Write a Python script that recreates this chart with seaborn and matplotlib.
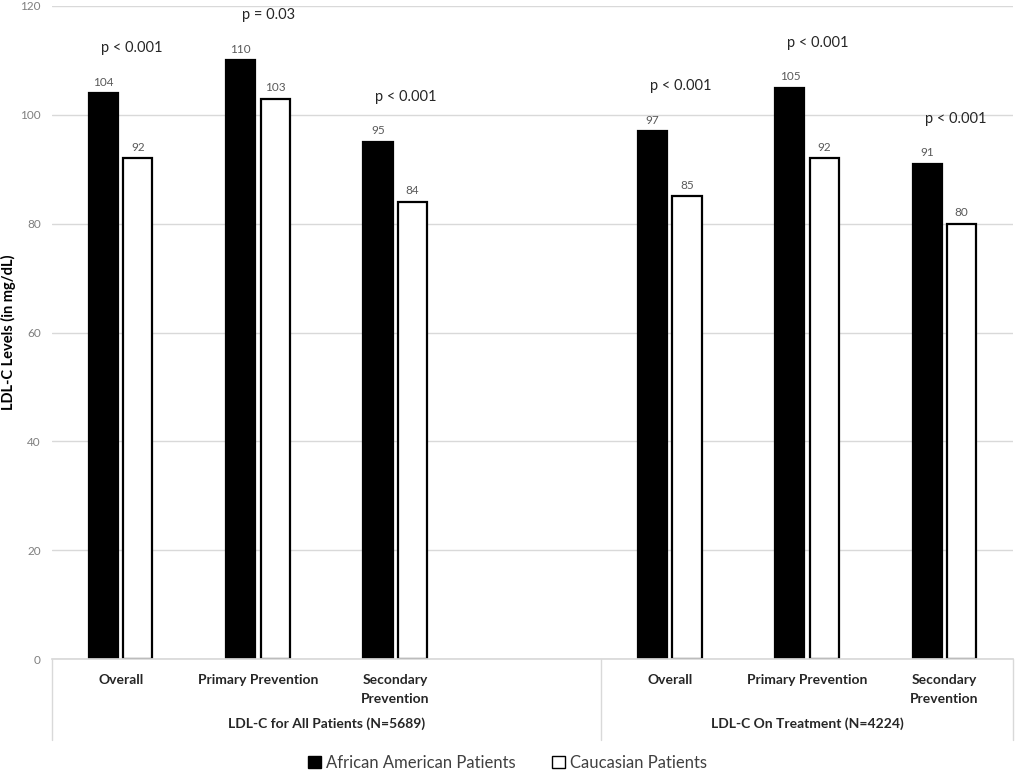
import matplotlib
matplotlib.use("Agg")
import matplotlib.pyplot as plt
from matplotlib.patches import Patch
import seaborn as sns
import pandas as pd

# ---- data ----
groups = ["LDL-C for All Patients (N=5689)", "LDL-C On Treatment (N=4224)"]
subcats = ["Overall", "Primary Prevention", "Secondary\nPrevention"]
series = ["African American Patients", "Caucasian Patients"]
african = [104, 110, 95, 97, 105, 91]
caucasian = [92, 103, 84, 85, 92, 80]
pvals = ["p < 0.001", "p = 0.03", "p < 0.001", "p < 0.001", "p < 0.001", "p < 0.001"]
yticks = [0, 20, 40, 60, 80, 100, 120]

# slot keys: 3 categories, one empty slot, 3 categories
slot_keys = ["A1", "A2", "A3", "gap", "B1", "B2", "B3"]
data_keys = ["A1", "A2", "A3", "B1", "B2", "B3"]

rows = []
for k, a, c in zip(data_keys, african, caucasian):
    rows.append({"slot": k, "series": series[0], "value": a})
    rows.append({"slot": k, "series": series[1], "value": c})
df = pd.DataFrame(rows)

sns.set_theme(style="white")
plt.rcParams["font.family"] = ["Lato", "DejaVu Sans"]

fig = plt.figure(figsize=(10.15, 7.71), dpi=100)
ax = fig.add_axes([52 / 1015, 1 - 659 / 771, (1013 - 52) / 1015, (659 - 6) / 771])

sns.barplot(data=df, x="slot", y="value", hue="series", order=slot_keys,
            hue_order=series, palette=["black", "white"], width=0.5, gap=0.15,
            edgecolor="black", linewidth=1.6, legend=False, ax=ax, errorbar=None)

for cont in ax.containers:
    ax.bar_label(cont, fmt="%d", padding=4, fontsize=8.5, color="#595959")

ax.set_ylim(0, 120)
ax.set_xlim(-0.5, 6.5)
ax.set_yticks(yticks)
ax.set_yticklabels([str(t) for t in yticks], fontsize=8.5, color="#7f7f7f")
ax.yaxis.grid(True, color="#d9d9d9", linewidth=1)
ax.set_axisbelow(True)
for s in ["left", "right", "top"]:
    ax.spines[s].set_visible(False)
ax.spines["bottom"].set_color("#d9d9d9")
ax.tick_params(axis="y", length=0, pad=8)
ax.tick_params(axis="x", length=0, pad=11)

tick_labels = subcats + [""] + subcats
ax.set_xticks(range(len(slot_keys)))
ax.set_xticklabels(tick_labels, fontsize=10, fontweight="bold", color="#262626",
                   linespacing=1.7)
ax.set_xlabel("")
ax.set_ylabel("LDL-C Levels (in mg/dL)", fontsize=10.5, fontweight="bold",
              color="black", labelpad=3)

# p-values above each pair
for k, p, a, c in zip(data_keys, pvals, african, caucasian):
    xi = slot_keys.index(k)
    ax.text(xi + 0.08, max(a, c) + 7, p, ha="center", va="bottom",
            fontsize=10.5, color="#262626")

# category axis group lines and labels
trans = ax.get_xaxis_transform()
bottom = -(740 - 659) / 653
for xv in [-0.5, 3.5, 6.5]:
    ax.plot([xv, xv], [0, bottom], transform=trans, color="#d9d9d9",
            linewidth=1, clip_on=False)
group_centers = [1.5, 5.0]
for gc, g in zip(group_centers, groups):
    ax.text(gc, -(724 - 659) / 653, g, transform=trans, ha="center", va="center",
            fontsize=10, fontweight="bold", color="#262626")

handles = [Patch(facecolor="black", edgecolor="black"),
           Patch(facecolor="white", edgecolor="black")]
fig.legend(handles, series, loc="center", bbox_to_anchor=(0.5, 1 - 763 / 771),
           ncol=2, frameon=False, fontsize=12, handlelength=0.75, handleheight=0.75,
           handletextpad=0.3, columnspacing=2.2, labelcolor="#404040")

fig.savefig("out.png", dpi=100)
